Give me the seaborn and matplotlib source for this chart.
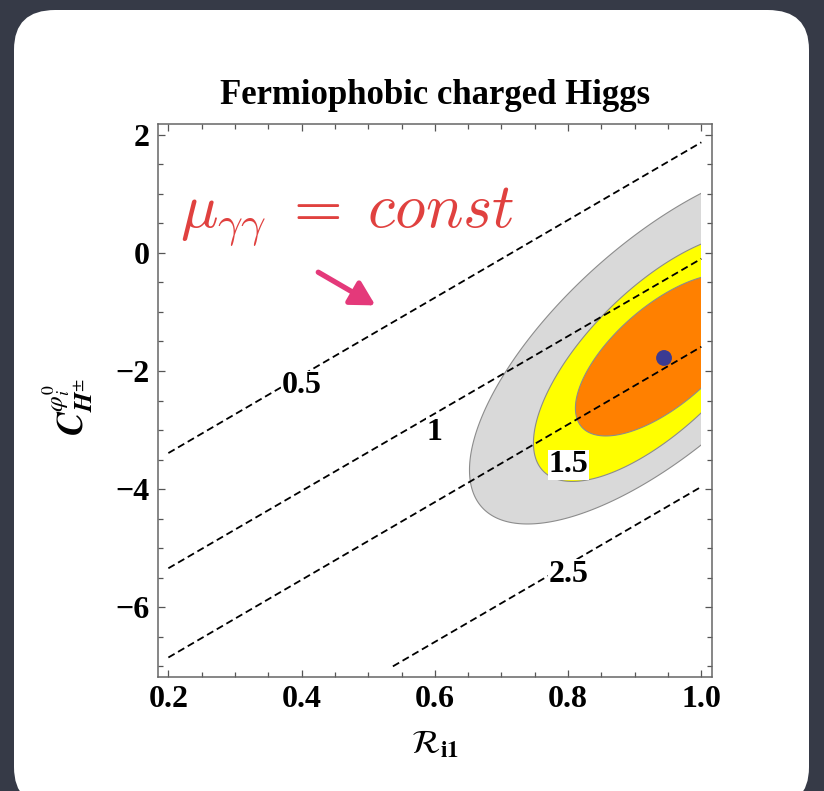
import numpy as np
import pandas as pd
import matplotlib
matplotlib.use("Agg")
import matplotlib.pyplot as plt
import seaborn as sns
from matplotlib.patches import Polygon, Rectangle, FancyBboxPatch, FancyArrowPatch
from matplotlib.ticker import MultipleLocator

# ---------------- data ----------------
mu_levels = ["0.5", "1", "1.5", "2.5"]
line_R_start = [0.2, 0.2, 0.2, 0.537]
line_C_start = [-3.39, -5.34, -6.85, -7.0]
line_R_end = [1.0, 1.0, 1.0, 1.0]
line_C_end = [1.87, -0.10, -1.59, -3.96]
label_R = [0.40, 0.60, 0.80, 0.80]
label_C = [-2.25, -3.04, -3.59, -5.44]

region_colors = ["#d9d9d9", "#ffff00", "#ff8000"]
region_cR = [0.942, 0.936, 0.944]
region_cC = [-1.547, -1.772, -1.731]
region_wR = [0.290, 0.188, 0.133]
region_wC = [3.043, 2.098, 1.369]
region_rho = [0.70, 0.69, 0.657]

best_R = [0.944]
best_C = [-1.78]

xticks = [0.2, 0.4, 0.6, 0.8, 1.0]
xtick_labels = ["0.2", "0.4", "0.6", "0.8", "1.0"]
yticks = [2, 0, -2, -4, -6]
ytick_labels = ["2", "0", "\u22122", "\u22124", "\u22126"]

# ---------------- figure ----------------
sns.set_theme(style="ticks")
plt.rcParams["font.family"] = ["Liberation Serif", "DejaVu Serif"]
plt.rcParams["mathtext.fontset"] = "stix"
plt.rcParams["text.color"] = "black"

W, H = 824, 791
fig = plt.figure(figsize=(W / 100, H / 100), dpi=100)
fig.patch.set_facecolor("#363a47")

panel = FancyBboxPatch((14 / W, -0.02), 795 / W, 1 - 10 / H + 0.02,
                       boxstyle="round,pad=0,rounding_size=0.05",
                       transform=fig.transFigure, facecolor="white",
                       edgecolor="none", zorder=-10)
fig.patches.append(panel)

ax = fig.add_axes([157.7 / W, 1 - 677 / H, (712 - 157.7) / W, (677 - 124) / H])
ax.set_zorder(1)
ax.set_facecolor("white")
ax.set_xlim(0.184, 1.016)
ax.set_ylim(-7.18, 2.18)

clip = Rectangle((0.2, -7.0), 0.8, 9.0, transform=ax.transData)
t = np.linspace(0, 2 * np.pi, 600)
for i in range(len(region_colors)):
    r = region_rho[i]
    xs = region_cR[i] + region_wR[i] * np.cos(t)
    ys = region_cC[i] + region_wC[i] * (r * np.cos(t) + np.sqrt(1 - r ** 2) * np.sin(t))
    poly = Polygon(np.column_stack([xs, ys]), closed=True,
                   facecolor=region_colors[i], edgecolor="#8c8c8c",
                   lw=0.8, zorder=1 + i)
    ax.add_patch(poly)
    poly.set_clip_path(clip)

for i, lev in enumerate(mu_levels):
    df = pd.DataFrame({"R": [line_R_start[i], line_R_end[i]],
                       "C": [line_C_start[i], line_C_end[i]]})
    sns.lineplot(data=df, x="R", y="C", ax=ax, color="black", lw=1.3,
                 sort=False, zorder=5)
    ax.lines[-1].set_linestyle((0, (4, 2.2)))
    ax.text(label_R[i], label_C[i], lev, ha="center", va="center",
            fontsize=23, fontweight="bold", color="black", zorder=7,
            bbox=dict(facecolor="white", edgecolor="none", pad=0.5))

sns.scatterplot(x=best_R, y=best_C, ax=ax, s=130, color="#3b3b92",
                edgecolor="none", zorder=10)

ax.set_xlabel("")
ax.set_ylabel("")

arrow = FancyArrowPatch((0.4214, -0.305), (0.5144, -0.914),
                        arrowstyle="-|>,head_length=0.9,head_width=0.5",
                        mutation_scale=16, color="#e4397a", lw=3.8,
                        transform=ax.transData, zorder=8)
ax.add_patch(arrow)

# ticks
ax.set_xticks(xticks)
ax.set_xticklabels(xtick_labels)
ax.set_yticks(yticks)
ax.set_yticklabels(ytick_labels)
ax.xaxis.set_minor_locator(MultipleLocator(0.05))
ax.yaxis.set_minor_locator(MultipleLocator(0.5))
ax.tick_params(which="both", direction="in", top=True, right=True,
               color="#555555")
ax.tick_params(which="major", length=5, width=0.9, labelsize=23, pad=6,
               labelcolor="black")
ax.tick_params(which="minor", length=3.3, width=0.9)
for lab in ax.get_xticklabels() + ax.get_yticklabels():
    lab.set_fontweight("bold")
for sp in ax.spines.values():
    sp.set_color("#666666")
    sp.set_linewidth(1.1)

# texts
fig.text(435 / W, 1 - 104 / H, "Fermiophobic charged Higgs", ha="center",
         va="baseline", fontsize=25, fontweight="bold", color="black")
fig.text(68 / W, 1 - 407 / H, r"$\mathbfit{C}^{\varphi_i^0}_{\mathbfit{H}^{\pm}}$",
         rotation=90, ha="center", va="center", fontsize=26, color="black")
fig.text(435 / W, 1 - 745 / H, r"$\mathcal{R}_{\mathbf{i1}}$",
         ha="center", va="center", fontsize=24, color="black")
ax.text(180 / W, 1 - 226 / H, r"$\mu_{\gamma\gamma}\;=\;const$",
        transform=fig.transFigure, math_fontfamily="cm", fontsize=45,
        color="#e0413f", ha="left", va="baseline", zorder=9)

fig.savefig("out.png", dpi=100, facecolor=fig.get_facecolor())
